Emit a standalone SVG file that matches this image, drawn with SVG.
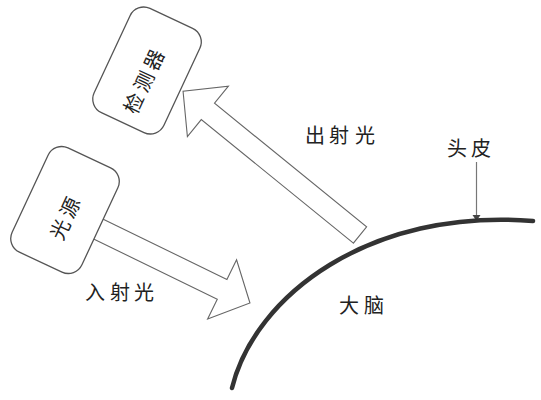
<svg xmlns="http://www.w3.org/2000/svg" width="541" height="400" viewBox="0 0 541 400">
<defs>
<style>
.box{fill:#fff;stroke:#555;stroke-width:1.3}
.arrow{fill:#fff;stroke:#666;stroke-width:1.1;stroke-linejoin:miter}
.lbl{font-family:"Noto Sans CJK SC","Noto Sans CJK JP",sans-serif;font-size:20px;fill:#222;text-anchor:middle;dominant-baseline:central}
</style>
<marker id="ptr" viewBox="0 0 8 8" refX="4" refY="8" markerWidth="8" markerHeight="8" markerUnits="userSpaceOnUse" orient="auto-start-reverse">
<path d="M0,0 L8,0 L4,8 Z" fill="#444" transform="rotate(-90 4 4)"/>
</marker>
</defs>
<rect width="541" height="400" fill="#fff"/>
<g id="connectors">
<path id="exit-arrow" class="arrow" transform="translate(360,235) rotate(219.1)" d="M0,-10.5 L196,-10.5 L196,-32.5 L228,0 L196,32.5 L196,10.5 L0,10.5 Z"/>
<path id="entry-arrow" class="arrow" transform="translate(70.2,215.3) rotate(26)" d="M0,-11 L169,-11 L169,-33 L200,0 L169,33 L169,11 L0,11 Z"/>
<path id="scalp-pointer" d="M476.5,162 L476.5,221" stroke="#777" stroke-width="1.2" fill="none"/>
<path d="M472.5,215 L480.5,215 L476.5,221 Z" fill="#444"/>
</g>
<g id="detector">
<rect class="box" x="-38.5" y="-57.5" width="77" height="115" rx="15" transform="translate(147,70.5) rotate(25)"/>
<text class="lbl" transform="translate(143,81) rotate(-65)" x="-24 0 24" y="0">检测器</text>
</g>
<g id="light-source">
<rect class="box" x="-38.5" y="-57.5" width="77" height="115" rx="15" transform="translate(65,210) rotate(25)"/>
<text class="lbl" transform="translate(64,218) rotate(-65)" x="-12 12" y="0">光源</text>
</g>
<g id="brain-surface">
<path d="M232,388 C255,295 370,208 533,221" fill="none" stroke="#333" stroke-width="4.5" stroke-linecap="round"/>
</g>
<g id="labels">
<text class="lbl" x="315 339 365" y="134">出射光</text>
<text class="lbl" x="95 120 144" y="291">入射光</text>
<text class="lbl" x="457 481" y="147.5">头皮</text>
<text class="lbl" x="349 374" y="304">大脑</text>
</g>
</svg>
